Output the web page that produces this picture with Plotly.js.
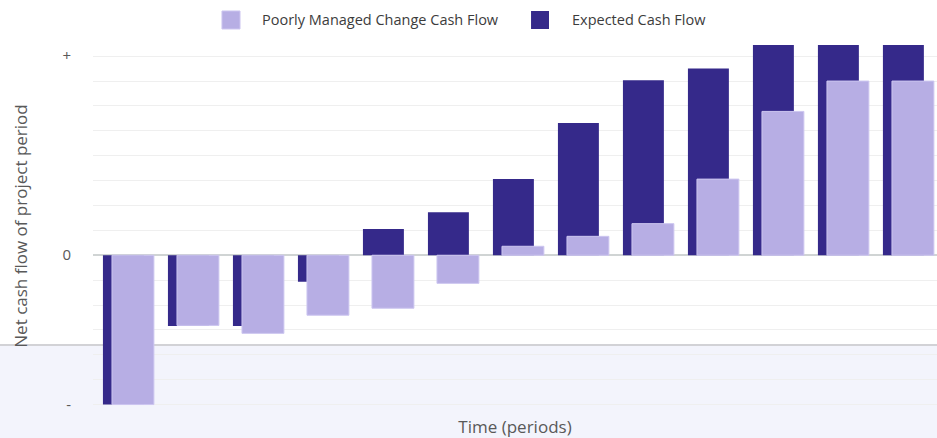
<!DOCTYPE html>
<html>
<head>
<meta charset="utf-8">
<script src="https://cdn.plot.ly/plotly-3.0.1.min.js"></script>
<style>html,body{margin:0;padding:0;background:#fff;}#chart{width:937px;height:438px;}</style>
</head>
<body>
<div id="chart"></div>
<script>
const periods = [1, 2, 3, 4, 5, 6, 7, 8, 9, 10, 11, 12, 13];
const expectedCashFlow = [-6, -2.84, -2.84, -1.07, 1.05, 1.73, 3.06, 5.31, 7.03, 7.5, 8.45, 8.45, 8.45];
const poorlyManagedCashFlow = [-6, -2.82, -3.14, -2.41, -2.13, -1.13, 0.36, 0.76, 1.27, 3.06, 5.78, 7.0, 7.0];
const yTickVals = [8, 7, 6, 5, 4, 3, 2, 1, 0, -1, -2, -3, -4, -5, -6];
const yTickText = ['+', '', '', '', '', '', '', '', '0', '', '', '', '', '', '-'];
const seriesNames = ['Poorly Managed Change Cash Flow', 'Expected Cash Flow'];

const darkColor = '#35298a';
const lightColor = '#b7aee4';

const traces = [
  {
    type: 'bar',
    name: seriesNames[1],
    x: periods,
    y: expectedCashFlow,
    width: 0.63,
    offset: -0.385,
    marker: {color: darkColor, line: {width: 0}},
    showlegend: false
  },
  {
    type: 'bar',
    name: seriesNames[0],
    x: periods,
    y: poorlyManagedCashFlow,
    width: 0.645,
    offset: -0.246,
    marker: {color: lightColor, line: {width: 1, color: '#cdc6f0'}},
    showlegend: false
  }
];

const legendFont = {family: 'Open Sans, sans-serif', size: 14.5, color: '#3c3c3c'};

const layout = {
  width: 937,
  height: 438,
  margin: {l: 93, r: 0, t: 40, b: 26},
  paper_bgcolor: '#ffffff',
  plot_bgcolor: 'rgba(0,0,0,0)',
  barmode: 'overlay',
  font: {family: 'Open Sans, sans-serif', color: '#595959', size: 14},
  showlegend: false,
  xaxis: {
    range: [0.462, 13.447],
    showticklabels: false,
    showgrid: false,
    zeroline: false,
    showline: false,
    ticks: '',
    fixedrange: true,
    title: {text: 'Time (periods)', font: {size: 17, color: '#595959'}, standoff: 11}
  },
  yaxis: {
    range: [-6.3, 8.65],
    tickvals: yTickVals,
    ticktext: yTickText,
    showgrid: true,
    gridcolor: '#efefef',
    gridwidth: 1,
    zeroline: true,
    zerolinecolor: '#d0d4d4',
    zerolinewidth: 2,
    showline: false,
    ticks: '',
    ticklabelstandoff: 21,
    tickfont: {size: 15, color: '#595959'},
    fixedrange: true,
    title: {text: 'Net cash flow of project period', font: {size: 17, color: '#595959'}, standoff: 30}
  },
  shapes: [
    {
      type: 'rect', xref: 'paper', yref: 'paper', layer: 'below',
      x0: -0.12, x1: 1.01, y0: -0.08, y1: 0.180,
      fillcolor: '#f3f4fc', line: {width: 0}
    },
    {
      type: 'line', xref: 'paper', yref: 'paper', layer: 'below',
      x0: -0.12, x1: 1.01, y0: 0.180, y1: 0.180,
      line: {color: '#d2d2d6', width: 2}
    },
    {
      type: 'rect', xref: 'paper', yref: 'paper',
      x0: 0.1528, x1: 0.1742, y0: 1.0296, y1: 1.078,
      fillcolor: lightColor, line: {width: 1, color: '#cdc6f0'}
    },
    {
      type: 'rect', xref: 'paper', yref: 'paper',
      x0: 0.519, x1: 0.5403, y0: 1.0296, y1: 1.078,
      fillcolor: darkColor, line: {width: 0}
    }
  ],
  annotations: [
    {
      xref: 'paper', yref: 'paper', x: 0.1979, y: 1.054,
      xanchor: 'left', yanchor: 'middle', showarrow: false,
      text: seriesNames[0], font: legendFont
    },
    {
      xref: 'paper', yref: 'paper', x: 0.5652, y: 1.054,
      xanchor: 'left', yanchor: 'middle', showarrow: false,
      text: seriesNames[1], font: legendFont
    }
  ]
};

Plotly.newPlot('chart', traces, layout, {displayModeBar: false, staticPlot: true});
</script>
</body>
</html>
